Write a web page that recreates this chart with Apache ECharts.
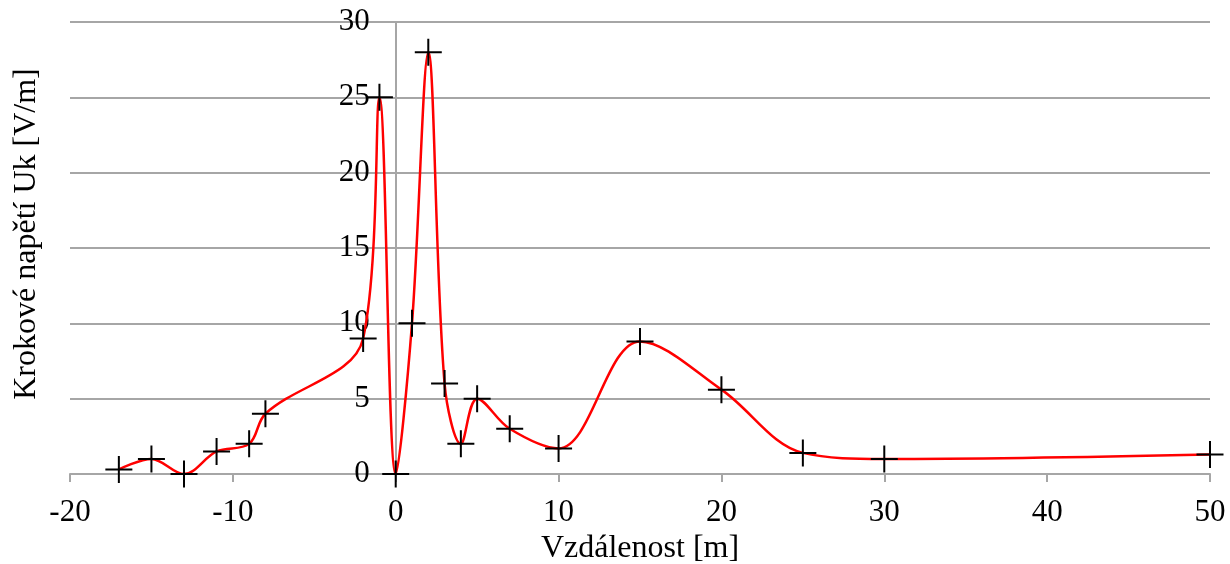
<!DOCTYPE html>
<html>
<head>
<meta charset="utf-8">
<script src="https://cdn.jsdelivr.net/npm/echarts@6/dist/echarts.min.js"></script>
<style>
html,body{margin:0;padding:0;background:#fff;}
#chart{width:1230px;height:564px;}
</style>
</head>
<body>
<div id="chart"></div>
<script>
// Data
const distance = [-17, -15, -13, -11, -9, -8, -2, -1, 0, 1, 2, 3, 4, 5, 7, 10, 15, 20, 25, 30, 50];
const stepVoltage = [0.3, 1.0, 0.0, 1.5, 2.0, 4.0, 9.0, 25.0, 0.0, 10.0, 28.0, 6.0, 2.0, 5.0, 3.0, 1.7, 8.8, 5.6, 1.4, 1.0, 1.3];
const xTicks = [-20, -10, 0, 10, 20, 30, 40, 50];
const yTicks = [0, 5, 10, 15, 20, 25, 30];
const xTitle = 'Vzdálenost [m]';
const yTitle = 'Krokové napětí Uk [V/m]';

const points = distance.map((d, i) => [d, stepVoltage[i]]);
const font = 'Liberation Serif';
const gray = '#a6a6a6';

const W = 1230, H = 564;
const gridLeft = 70, gridRight = 20, gridTop = 22, gridBottom = 90;
const xMin = xTicks[0], xMax = xTicks[xTicks.length - 1];
// the y axis sits at x = 0 of the x axis
const yAxisOffset = -((0 - xMin) / (xMax - xMin)) * (W - gridLeft - gridRight);

const chart = echarts.init(document.getElementById('chart'), null, {renderer: 'canvas'});
chart.setOption({
  animation: false,
  backgroundColor: '#fff',
  grid: {left: gridLeft, right: gridRight, top: gridTop, bottom: gridBottom, containLabel: false, outerBoundsMode: 'none'},
  xAxis: {
    type: 'value',
    min: xMin, max: xMax, interval: 10,
    name: xTitle, nameLocation: 'middle', nameGap: 48,
    nameTextStyle: {fontFamily: font, fontSize: 32, color: '#000'},
    axisLine: {show: true, onZero: true, lineStyle: {color: gray, width: 2}},
    axisTick: {show: true, length: 8, lineStyle: {color: gray, width: 2}},
    axisLabel: {fontFamily: font, fontSize: 31, color: '#000', margin: 23},
    splitLine: {show: false}
  },
  yAxis: {
    type: 'value',
    min: yTicks[0], max: yTicks[yTicks.length - 1], interval: 5,
    offset: yAxisOffset,
    axisLine: {show: true, onZero: false, lineStyle: {color: gray, width: 2}},
    axisTick: {show: false},
    axisLabel: {fontFamily: font, fontSize: 31, color: '#000', margin: 26},
    splitLine: {show: true, lineStyle: {color: gray, width: 2}}
  },
  graphic: [{
    type: 'text',
    x: 27,
    y: 234,
    rotation: Math.PI / 2,
    style: {text: yTitle, fontFamily: font, fontSize: 32, fill: '#000', align: 'center', verticalAlign: 'middle'}
  }],
  series: [{
    type: 'line',
    data: points,
    smooth: 0.35,
    lineStyle: {color: '#ff0000', width: 2.5},
    showSymbol: true,
    symbol: 'path://M0,13L26,13M13,0L13,26',
    symbolSize: 27,
    itemStyle: {color: 'rgba(0,0,0,0)', borderColor: '#000', borderWidth: 2},
    z: 3
  }]
});
</script>
</body>
</html>
